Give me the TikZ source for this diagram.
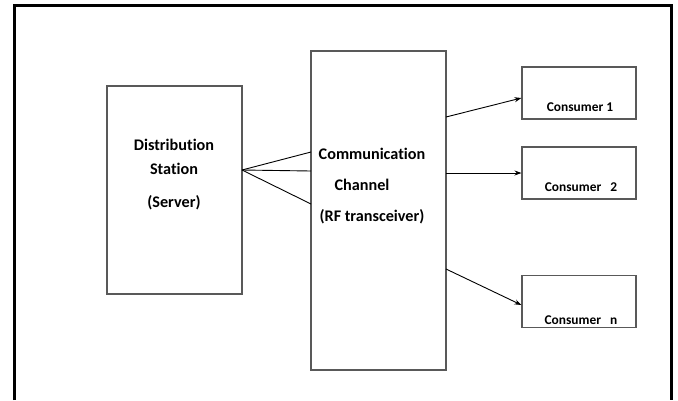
\documentclass[tikz,border=0pt]{standalone}
\usepackage{fontspec}
\setmainfont{Carlito}[Ligatures=NoCommon]
\usetikzlibrary{arrows.meta}

\begin{document}
\begin{tikzpicture}[x=1pt,y=-1pt,
        box/.style={draw=black!65, line width=1.1pt, inner sep=0pt},
        lbl/.style={font=\bfseries\fontsize{16.2}{18}\selectfont},
        clbl/.style={font=\bfseries\fontsize{13.4}{15}\selectfont},
        link/.style={black, line width=0.9pt},
        feed/.style={link, -{Stealth[length=7pt,width=5pt]}}]
        \useasboundingbox (0,0) rectangle (678,400);
        % outer frame, open at the bottom
        \draw [black, line width=3.5pt] (14.5,400) -- (14.5,5.5) -- (671.5,5.5) -- (671.5,400);

        % server and channel
        \node [box, minimum width=135pt, minimum height=208pt] (srv) at (174.5,190) {};
        \node [box, minimum width=135pt, minimum height=319pt] (chan) at (378.5,210.5) {};
        \node [lbl] (srvA) at (174,145) {Distribution};
        \node [lbl] (srvB) at (174,169) {Station};
        \node [lbl] (srvC) at (174,203) {(Server)};
        \node [lbl] (chanA) at (372,154) {Communication};
        \node [lbl] (chanB) at (362,185) {Channel};
        \node [lbl] (chanC) at (372,217) {(RF transceiver)};

        % consumers
        \node [box, minimum width=114pt, minimum height=52pt] (con1) at (579,93) {};
        \node [box, minimum width=114pt, minimum height=52pt] (con2) at (579,173) {};
        \node [box, minimum width=114pt, minimum height=52pt] (conN) at (579,301.5) {};
        \node [clbl] (con1txt) at (580,107) {Consumer 1};
        \node [clbl] (con2txt) at (581,187) {Consumer\ \ \ 2};
        \node [clbl] (conNtxt) at (581,320) {Consumer\ \ \ n};

        % server side fan
        \coordinate (hub) at (242,170);
        \coordinate (inA) at (311,152);
        \coordinate (inB) at (311,171);
        \coordinate (inC) at (311,204);
        \draw [link] (hub) -- (inA);
        \draw [link] (hub) -- (inB);
        \draw [link] (hub) -- (inC);

        % channel to consumers
        \coordinate (outA) at (446,117);
        \coordinate (outB) at (446,173);
        \coordinate (outC) at (446,269);
        \draw [feed] (outA) -- (con1.west |- 0,98);
        \draw [feed] (outB) -- (con2.west);
        \draw [feed] (outC) -- (conN.west |- 0,305);
\end{tikzpicture}
\end{document}
